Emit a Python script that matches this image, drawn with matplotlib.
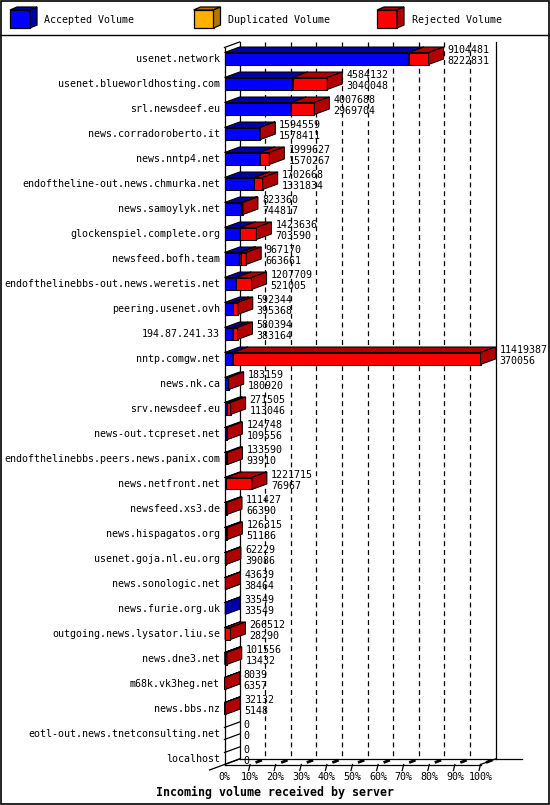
import matplotlib.pyplot as plt
from matplotlib.patches import Polygon, Rectangle

hosts = [
    "usenet.network", "usenet.blueworldhosting.com", "srl.newsdeef.eu",
    "news.corradoroberto.it", "news.nntp4.net", "endoftheline-out.news.chmurka.net",
    "news.samoylyk.net", "glockenspiel.complete.org", "newsfeed.bofh.team",
    "endofthelinebbs-out.news.weretis.net", "peering.usenet.ovh", "194.87.241.33",
    "nntp.comgw.net", "news.nk.ca", "srv.newsdeef.eu", "news-out.tcpreset.net",
    "endofthelinebbs.peers.news.panix.com", "news.netfront.net", "newsfeed.xs3.de",
    "news.hispagatos.org", "usenet.goja.nl.eu.org", "news.sonologic.net",
    "news.furie.org.uk", "outgoing.news.lysator.liu.se", "news.dne3.net",
    "m68k.vk3heg.net", "news.bbs.nz", "eotl-out.news.tnetconsulting.net", "localhost",
]
total_volume = [9104481, 4584132, 4007688, 1594559, 1999627, 1702668, 823360,
                1423636, 967170, 1207709, 592344, 580394, 11419387, 183159,
                271505, 124748, 133590, 1221715, 111427, 126315, 62229, 43639,
                33549, 266512, 101556, 8039, 32132, 0, 0]
accepted_volume = [8222831, 3040048, 2969704, 1578411, 1570267, 1331834, 744817,
                   703590, 663661, 521005, 395368, 383164, 370056, 180920,
                   113046, 109556, 93910, 76967, 66390, 51186, 39086, 38464,
                   33549, 28290, 13432, 6357, 5148, 0, 0]
# duplicated volume is only visible as thin slivers on two servers (estimated)
duplicated_volume = [0, 0, 0, 0, 0, 0, 40000, 0, 60000, 0, 0, 0, 0, 0, 0, 0,
                     0, 0, 0, 0, 0, 0, 0, 0, 0, 0, 0, 0, 0]
legend_labels = ["Accepted Volume", "Duplicated Volume", "Rejected Volume"]
x_ticks_pct = [0, 10, 20, 30, 40, 50, 60, 70, 80, 90, 100]
x_title = "Incoming volume received by server"

colors = {
    "acc": ("#0000ff", "#0000a8"),
    "dup": ("#ffb000", "#b07800"),
    "rej": ("#ff0000", "#b00000"),
}

W, H = 550, 805
X0 = 224.5          # pixel of 0% on the front plane
PLOT_W = 256.0      # pixels from 0% to 100%
ROW0, ROW_H = 58.5, 25.0
DEPTH_X, DEPTH_Y = 15.0, 5.5
HALF = 6.0
FONT = "DejaVu Sans Mono"
FS = 7.2

vmax = max(total_volume)
px = PLOT_W / vmax          # pixels per byte
dx = DEPTH_X / px
dy = DEPTH_Y / ROW_H
hh = HALF / ROW_H


def row_of(p):
    return (p - ROW0) / ROW_H


fig = plt.figure(figsize=(W / 100, H / 100), dpi=100)
ax = fig.add_axes([0, 0, 1, 1])
ax.set_xlim(-X0 / px, (W - X0) / px)
ax.set_ylim(row_of(H), row_of(0))
ax.axis("off")

# frame and legend separator
fig.patches.append(Rectangle((0.001, 0.001), 0.998, 0.998, transform=fig.transFigure,
                             fill=False, edgecolor="black", linewidth=1.2))
ax.plot([-X0 / px, (W - X0) / px], [row_of(34.5)] * 2, color="black", lw=1)

n = len(hosts)
wall_top = row_of(42)
floor_front = (n - 1) + hh
floor_back = floor_front - dy

# back wall grid
for k in range(1, 10):
    xg = vmax * k / 10 + dx
    ax.plot([xg, xg], [wall_top, floor_back], color="black", lw=0.9,
            linestyle=(0, (4, 3)), zorder=1)
for xw in [dx, vmax + dx]:
    ax.plot([xw, xw], [wall_top, floor_back], color="black", lw=0.9, zorder=1)
# left wall
ax.plot([0, 0], [wall_top + dy, floor_front], color="black", lw=0.9, zorder=1)
ax.plot([0, dx], [wall_top + dy, wall_top], color="black", lw=0.9, zorder=1)
# floor
ax.plot([0, vmax], [floor_front] * 2, color="black", lw=0.9, zorder=1)
ax.plot([dx, (522 - X0) / px], [floor_back] * 2, color="black", lw=0.9, zorder=1)
ax.plot([-dx, dx], [floor_front + dy, floor_back], color="black", lw=0.9, zorder=1)
ax.plot([vmax, vmax + dx], [floor_front, floor_back], color="black", lw=0.9, zorder=1)
for p in x_ticks_pct:
    xt = vmax * p / 100
    if p > 0:
        ax.plot([xt, xt - 1.5 / px], [floor_front, floor_front + 6 / ROW_H],
                color="black", lw=0.9, zorder=1)
        ax.plot([xt + 0.45 * dx, xt + 0.7 * dx],
                [floor_front - 0.45 * dy, floor_front - 0.7 * dy],
                color="black", lw=2, zorder=1)
    ax.text(xt, row_of(777), f"{p}%", ha="center", va="center",
            fontsize=FS, family=FONT)
ax.text((275.5 - X0) / px, row_of(792), x_title, ha="center", va="center",
        fontsize=8.4, family=FONT, fontweight="bold")


def bar3d(x0, x1, r, face, dark, z):
    top, bot = r - hh, r + hh
    kw = dict(edgecolor="black", linewidth=0.75, zorder=z)
    ax.add_patch(Polygon([(x0, top), (x1, top), (x1, bot), (x0, bot)],
                         facecolor=face, **kw))
    ax.add_patch(Polygon([(x0, top), (x0 + dx, top - dy), (x1 + dx, top - dy),
                          (x1, top)], facecolor=dark, **kw))
    ax.add_patch(Polygon([(x1, top), (x1 + dx, top - dy), (x1 + dx, bot - dy),
                          (x1, bot)], facecolor=dark, **kw))


for i, host in enumerate(hosts):
    tot = total_volume[i]
    acc = accepted_volume[i]
    dup = duplicated_volume[i]
    rej = tot - acc - dup
    ax.text(-4.5 / px, i, host, ha="right", va="center", fontsize=FS, family=FONT)
    if tot == 0:
        for yy in [i - hh, i + hh]:
            ax.plot([0, dx], [yy, yy - dy], color="black", lw=0.9, zorder=2)
    else:
        start = 0
        for j, (val, key) in enumerate([(acc, "acc"), (dup, "dup"), (rej, "rej")]):
            if val <= 0:
                continue
            bar3d(start, start + val, i, colors[key][0], colors[key][1],
                  2 + i * 0.01 + j * 0.001)
            start += val
    xl = tot + dx + 4 / px
    ax.text(xl, i - 9 / ROW_H, str(tot), ha="left", va="center",
            fontsize=FS, family=FONT, zorder=5)
    ax.text(xl, i + 2.5 / ROW_H, str(acc), ha="left", va="center",
            fontsize=FS, family=FONT, zorder=5)

# legend
lax = fig.add_axes([0, 1 - 34.5 / H, 1, 34.5 / H])
lax.set_xlim(0, W)
lax.set_ylim(34.5, 0)
lax.axis("off")
legend_x = [10, 193.5, 377]
for lx, lab, key in zip(legend_x, legend_labels, ["acc", "dup", "rej"]):
    face, dark = colors[key]
    kw = dict(edgecolor="black", linewidth=0.9)
    lax.add_patch(Polygon([(lx, 10), (lx + 20, 10), (lx + 20, 28), (lx, 28)],
                          facecolor=face, **kw))
    lax.add_patch(Polygon([(lx, 10), (lx + 7, 7), (lx + 27, 7), (lx + 20, 10)],
                          facecolor=dark, **kw))
    lax.add_patch(Polygon([(lx + 20, 10), (lx + 27, 7), (lx + 27, 25), (lx + 20, 28)],
                          facecolor=dark, **kw))
    lax.text(lx + 34.5, 20, lab, ha="left", va="center", fontsize=FS, family=FONT)

fig.savefig("out.png", dpi=100)
